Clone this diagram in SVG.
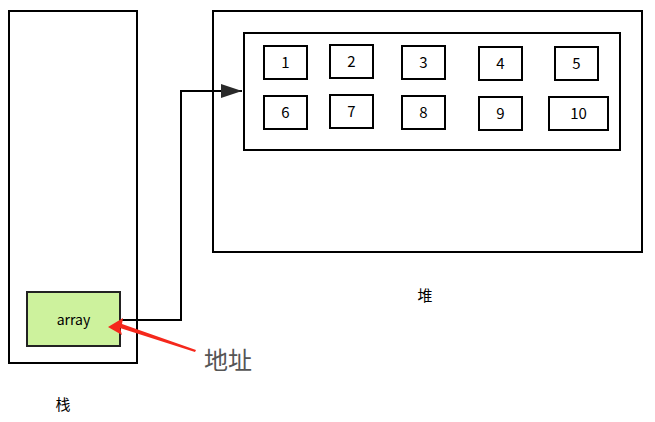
<svg xmlns="http://www.w3.org/2000/svg" width="655" height="422" viewBox="0 0 655 422">
<defs>
<style>
.box{fill:#fff;stroke:#000;stroke-width:2}
.t{font-family:"Noto Sans CJK SC","Noto Sans","Liberation Sans",sans-serif;font-size:15px;fill:#000;text-anchor:middle}
.conn{fill:none;stroke:#000;stroke-width:2}
</style>
<marker id="ah" markerWidth="21" markerHeight="14" refX="21" refY="7" orient="auto" markerUnits="userSpaceOnUse" viewBox="0 0 21 14">
<path d="M0,0 L21,7 L0,14 Z" fill="#2a2a2a"/>
</marker>
</defs>
<rect width="655" height="422" fill="#fff"/>
<g id="stack">
<rect class="box" x="9" y="11" width="128" height="352"/>
<text class="t" x="63" y="410">栈</text>
</g>
<g id="heap">
<rect class="box" x="213" y="11" width="429" height="241"/>
<text class="t" x="425" y="301">堆</text>
</g>
<g id="array-block">
<rect class="box" x="244" y="33" width="376" height="117"/>
</g>
<g id="e1"><rect class="box" x="264" y="46" width="43" height="33"/><text class="t" x="285.5" y="68">1</text></g>
<g id="e2"><rect class="box" x="330" y="45" width="43" height="33"/><text class="t" x="351.5" y="67">2</text></g>
<g id="e3"><rect class="box" x="402" y="46" width="43" height="33"/><text class="t" x="423.5" y="68">3</text></g>
<g id="e4"><rect class="box" x="479" y="47" width="43" height="33"/><text class="t" x="500.5" y="69">4</text></g>
<g id="e5"><rect class="box" x="555" y="47" width="43" height="33"/><text class="t" x="576.5" y="69">5</text></g>
<g id="e6"><rect class="box" x="264" y="96" width="43" height="33"/><text class="t" x="285.5" y="118">6</text></g>
<g id="e7"><rect class="box" x="330" y="95" width="43" height="33"/><text class="t" x="351.5" y="117">7</text></g>
<g id="e8"><rect class="box" x="402" y="96" width="43" height="33"/><text class="t" x="423.5" y="118">8</text></g>
<g id="e9"><rect class="box" x="479" y="97" width="43" height="33"/><text class="t" x="500.5" y="119">9</text></g>
<g id="e10"><rect class="box" x="549" y="97" width="59" height="33"/><text class="t" x="578.5" y="119">10</text></g>
<g id="array">
<rect x="27" y="292" width="93" height="54" fill="#cdf29d" stroke="#222" stroke-width="2"/>
<text class="t" x="73.5" y="325" style="font-size:14px">array</text>
</g>
<g id="connectors">
<path class="conn" d="M120,320 H181 V91 H242" marker-end="url(#ah)"/>
<path d="M195,352 L120,328 L122,335 L108,327 L123,318 L122,324 L196,350 Z" fill="#f5281c"/>
</g>
<g id="label-address">
<text x="204" y="369" style="font-family:'Noto Sans CJK SC','Noto Sans',sans-serif;font-size:24px;fill:#555">地址</text>
</g>
</svg>
